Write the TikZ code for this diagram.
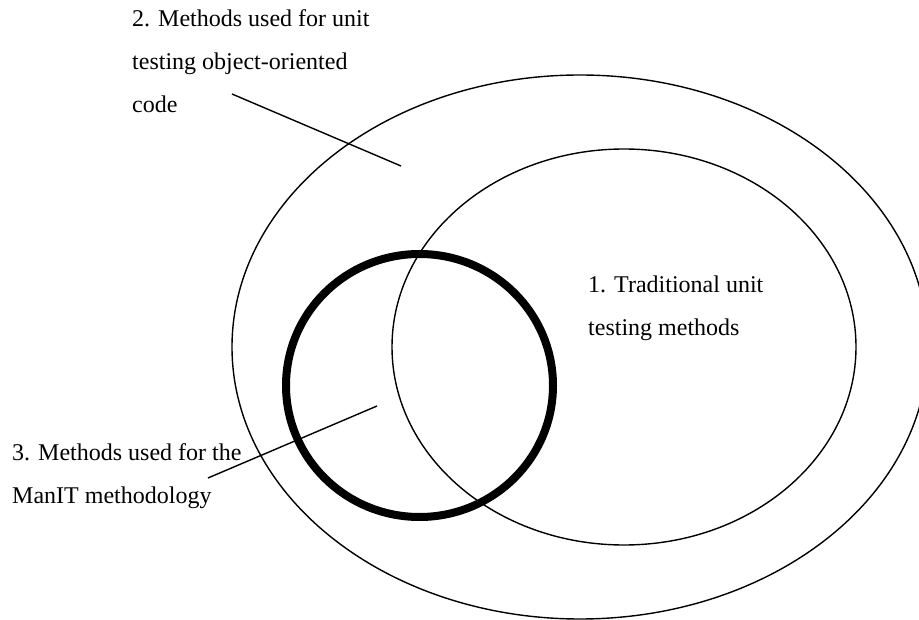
\documentclass[tikz,border=0pt]{standalone}
\usepackage{fontspec}
\setmainfont{Liberation Serif}
\begin{document}
\begin{tikzpicture}[x=1pt,y=-1pt,
  region/.style={draw=black,line width=1.4pt},
  thickregion/.style={draw=black,line width=8pt},
  leader/.style={draw=black,line width=1.4pt},
  label/.style={inner sep=0pt,anchor=base west,align=left,
    font=\fontsize{24}{43}\selectfont}]
  \useasboundingbox (0,0) rectangle (919,620);
  \clip (0,0) rectangle (919,620);

  % sets of methods
  \draw[region] (580,347) ellipse [x radius=348, y radius=272];
  \draw[region] (624,347) ellipse [x radius=232, y radius=198];
  \draw[thickregion] (419.5,385.5) ellipse [x radius=133.5, y radius=131.5];

  % labels (anchored at the baseline of their last line)
  \node[label] (trad) at (588,336) {1. Traditional unit\\testing methods};
  \node[label] (oo) at (132,113) {2. Methods used for unit\\testing object-oriented\\code};
  \node[label] (manit) at (12,503) {3. Methods used for the\\ManIT methodology};

  % leader lines
  \coordinate (ooA) at (232,94);
  \coordinate (ooB) at (401,166);
  \coordinate (maA) at (208,478);
  \coordinate (maB) at (377,406);
  \draw[leader] (ooA) -- (ooB);
  \draw[leader] (maA) -- (maB);
\end{tikzpicture}
\end{document}
